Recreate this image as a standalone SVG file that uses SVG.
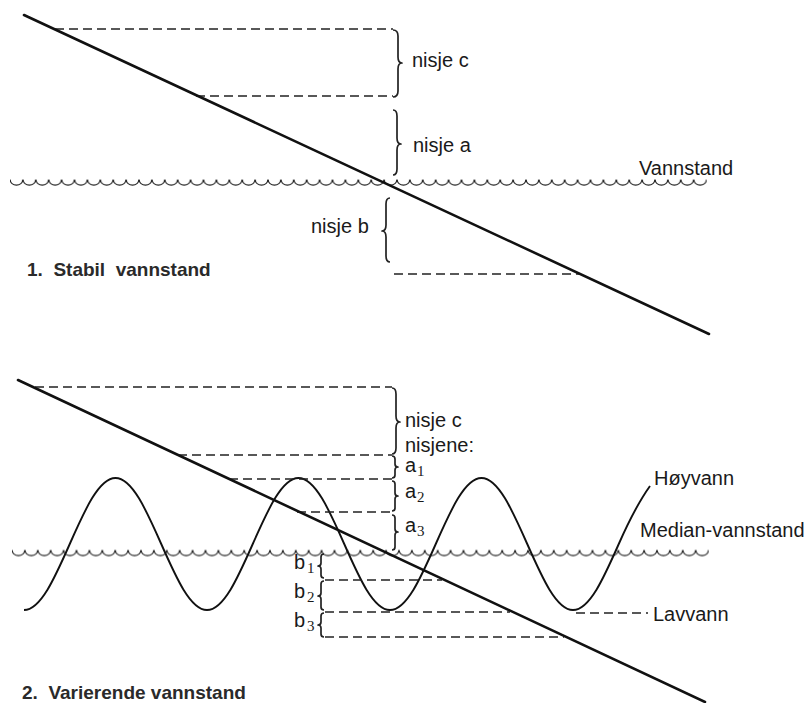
<svg xmlns="http://www.w3.org/2000/svg" width="805" height="703" viewBox="0 0 805 703">
<style>
.lbl{font-family:"Liberation Sans",Arial,sans-serif;font-size:20px;fill:#1a1a1a}
.ttl{font-family:"Liberation Sans",Arial,sans-serif;font-size:19px;font-weight:bold;fill:#2a2a2a;white-space:pre}
.sub{font-family:"Liberation Serif","Times New Roman",serif;font-size:15px;fill:#1a1a1a}
.slope{stroke:#111;stroke-width:2.6;fill:none;stroke-linecap:round}
.dash{stroke:#222;stroke-width:1.3;fill:none;stroke-dasharray:9 5}
.brace{stroke:#222;stroke-width:1.7;fill:none;stroke-linejoin:round}
.tide{stroke:#111;stroke-width:1.9;fill:none}
</style>
<defs>
<pattern id="wave" x="0" y="0" width="12.9" height="12" patternUnits="userSpaceOnUse">
<path d="M0,2.5 A6.5,6.5 0 0 0 12.9,2.5" stroke="#222" stroke-width="1.3" fill="none"/>
</pattern>
</defs>

<!-- Figure 1 -->
<g id="water1"><g transform="translate(10,177)"><rect x="0" y="0" width="696.6" height="12" fill="url(#wave)"/></g></g>
<g id="connectors1">
<line class="dash" x1="55" y1="29" x2="393" y2="29"/>
<line class="dash" x1="196" y1="96" x2="393" y2="96"/>
<line class="dash" x1="394" y1="274" x2="580" y2="274"/>
</g>
<g id="slope1"><line class="slope" x1="24" y1="15" x2="709" y2="334"/></g>
<g id="brace-c1"><path class="brace" d="M393,30 Q398,30 398,36 L398,57 Q398,63 402,63 Q398,63 398,69 L398,91 Q398,97 393,97"/>
<text class="lbl" x="412" y="67">nisje c</text></g>
<g id="brace-a1"><path class="brace" d="M393,110 Q397,110 397,116 L397,138 Q397,144 401,144 Q397,144 397,150 L397,169 Q397,175 393,175"/>
<text class="lbl" x="413" y="152">nisje a</text></g>
<g id="brace-b1"><path class="brace" d="M390,198 Q386,198 386,204 L386,225 Q386,231 382,231 Q386,231 386,237 L386,256 Q386,262 390,262"/>
<text class="lbl" x="311" y="233">nisje b</text></g>
<text class="lbl" x="639" y="175">Vannstand</text>
<text class="ttl" x="27" y="276">1.  Stabil  vannstand</text>

<!-- Figure 2 -->
<g id="water2"><g transform="translate(12,547.5)"><rect x="0" y="0" width="696.6" height="12" fill="url(#wave)"/></g></g>
<g id="tide"><path class="tide" d="M24,610 c16.55,0 30.82,-32.2 45.75,-66 c14.93,-33.8 29.2,-66 45.75,-66 c16.55,0 30.82,32.2 45.75,66 c14.93,33.8 29.2,66 45.75,66 c16.55,0 30.82,-32.2 45.75,-66 c14.93,-33.8 29.2,-66 45.75,-66 c16.55,0 30.82,32.2 45.75,66 c14.93,33.8 29.2,66 45.75,66 c16.55,0 30.82,-32.2 45.75,-66 c14.93,-33.8 29.2,-66 45.75,-66 c16.55,0 30.82,32.2 45.75,66 c14.93,33.8 29.2,66 45.75,66 c16.55,0 30.82,-32.2 45.75,-66 c10.2,-23.1 20.5,-43 31.25,-58"/></g>
<g id="connectors2">
<line class="dash" x1="35" y1="387" x2="392" y2="387"/>
<line class="dash" x1="178" y1="455" x2="392" y2="455"/>
<line class="dash" x1="229" y1="479" x2="392" y2="479"/>
<line class="dash" x1="297" y1="512" x2="392" y2="512"/>
<line class="dash" x1="325" y1="580" x2="442" y2="580"/>
<line class="dash" x1="325" y1="612" x2="510" y2="612"/>
<line class="dash" x1="325" y1="637" x2="564" y2="637"/>
<line class="dash" x1="576" y1="613" x2="648" y2="613"/>
</g>
<g id="slope2"><line class="slope" x1="18" y1="380" x2="705" y2="702"/></g>
<g id="brace-c2"><path class="brace" d="M392,388 Q396,388 396,394 L396,416 Q396,422 400,422 Q396,422 396,428 L396,448 Q396,454 392,454"/>
<text class="lbl" x="405" y="427">nisje c</text>
<text class="lbl" x="405" y="452">nisjene:</text></g>
<g id="brace-a1-2"><path class="brace" d="M392,456 Q395,456 395,459 L395,464 Q395,467 398,467 Q395,467 395,470 L395,475 Q395,478 392,478"/>
<text class="lbl" x="405" y="472">a</text><text class="sub" x="417" y="476">1</text></g>
<g id="brace-a2-2"><path class="brace" d="M392,481 Q395,481 395,484 L395,493 Q395,496 398,496 Q395,496 395,499 L395,508 Q395,511 392,511"/>
<text class="lbl" x="405" y="498">a</text><text class="sub" x="417" y="502">2</text></g>
<g id="brace-a3-2"><path class="brace" d="M392,515 Q395,515 395,518 L395,529 Q395,532 398,532 Q395,532 395,535 L395,547 Q395,550 392,550"/>
<text class="lbl" x="405" y="532">a</text><text class="sub" x="417" y="536">3</text></g>
<g id="brace-b1-2"><path class="brace" d="M324,554 Q321,554 321,557 L321,563 Q321,566 318,566 Q321,566 321,569 L321,575 Q321,578 324,578"/>
<text class="lbl" x="294" y="569">b</text><text class="sub" x="307" y="573">1</text></g>
<g id="brace-b2-2"><path class="brace" d="M324,581 Q321,581 321,584 L321,593 Q321,596 318,596 Q321,596 321,599 L321,607 Q321,610 324,610"/>
<text class="lbl" x="294" y="598">b</text><text class="sub" x="307" y="602">2</text></g>
<g id="brace-b3-2"><path class="brace" d="M324,613 Q321,613 321,616 L321,622 Q321,625 318,625 Q321,625 321,628 L321,634 Q321,637 324,637"/>
<text class="lbl" x="294" y="627">b</text><text class="sub" x="307" y="631">3</text></g>
<text class="lbl" x="654" y="485">Høyvann</text>
<text class="lbl" x="640" y="537">Median-vannstand</text>
<text class="lbl" x="653" y="621">Lavvann</text>
<text class="ttl" x="22" y="699">2.  Varierende vannstand</text>
</svg>
